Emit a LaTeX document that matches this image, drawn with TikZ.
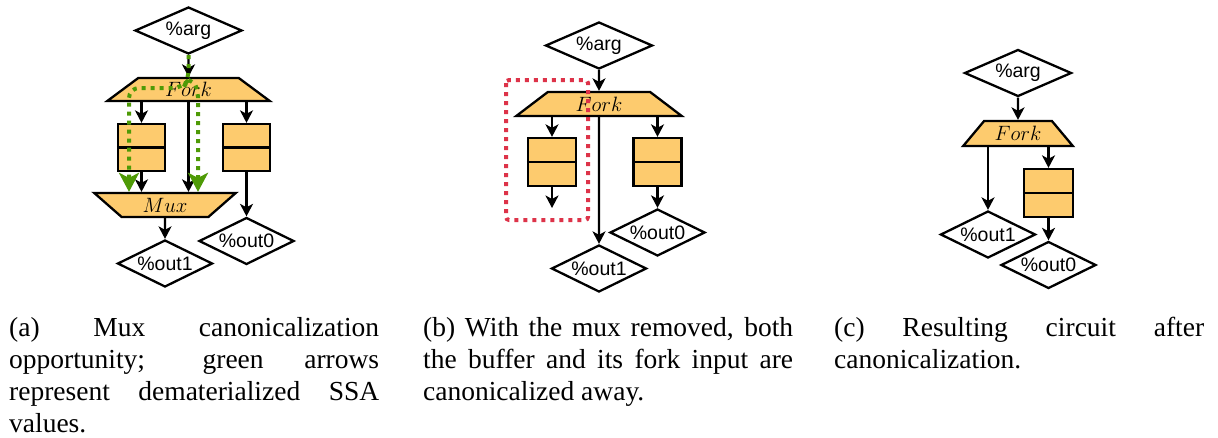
\documentclass[tikz,border=0pt]{standalone}
\usepackage{fontspec}
\setmainfont{Liberation Serif}
\setsansfont{Liberation Sans}
\usetikzlibrary{arrows.meta,shapes.geometric}

\definecolor{opfill}{RGB}{253,203,110}
\definecolor{ssagreen}{RGB}{78,154,6}
\definecolor{dropred}{RGB}{221,51,73}

\tikzset{
  val/.style={diamond, aspect=2, draw, fill=white, inner sep=0pt,
    minimum width=95pt, minimum height=47pt,
    font=\sffamily\fontsize{19.5}{19.5}\selectfont},
  argval/.style={val, minimum width=107pt},
  forkbox/.style={trapezium, trapezium left angle=45, trapezium right angle=45,
    trapezium stretches=true, draw, fill=opfill, inner sep=0pt,
    font=\fontsize{21}{21}\selectfont},
  muxbox/.style={forkbox, trapezium left angle=135, trapezium right angle=135},
  bufbox/.style={rectangle, draw, fill=opfill, inner sep=0pt,
    minimum width=47pt, minimum height=47pt},
  flow/.style={-{Stealth[length=12.5pt,width=13pt,inset=3.5pt]}},
  ssa/.style={draw=ssagreen, line width=4pt, dash pattern=on 4pt off 5pt,
    -{Stealth[length=19pt,width=20pt,inset=5pt,fill=ssagreen]}},
  removed/.style={draw=dropred, line width=4pt, dash pattern=on 4pt off 5pt,
    rounded corners=3pt},
  caption/.style={anchor=base west, inner sep=0pt, align=left,
    font=\fontsize{27.5}{32.3}\selectfont},
}

\newcommand{\subcap}[1]{\parbox[t]{370pt}{\hbadness=10000\tolerance=10000
  \hyphenpenalty=10000 #1}}

\begin{document}
\begin{tikzpicture}[x=1pt, y=-1pt, line width=2.3pt]
\useasboundingbox (0,0) rectangle (1218,437);

% ---------- (a) mux canonicalization opportunity ----------
\node[argval] (aarg) at (188.5,30.5) {\%arg};
\node[forkbox, minimum width=163pt, minimum height=23pt] (afork) at (188.5,89.5) {$Fork$};
\node[bufbox] (ab1) at (141.5,147.5) {};
\node[bufbox] (ab2) at (246.5,147.5) {};
\draw (ab1.west) -- (ab1.east);
\draw (ab2.west) -- (ab2.east);
\node[muxbox, minimum width=142pt, minimum height=24pt] (amux) at (165,205) {$Mux$};
\node[val] (aout1) at (165,263.5) {\%out1};
\node[val] (aout0) at (246.5,241) {\%out0};

\draw[flow] (aarg.south) -- (afork.north);
\draw[flow] (afork.south -| ab1.north) -- (ab1.north);
\draw[flow] (afork.south -| ab2.north) -- (ab2.north);
\draw[flow] (ab1.south) -- (ab1.south |- amux.north);
\draw[flow] (afork.south) -- (afork.south |- amux.north);
\draw[flow] (amux.south) -- (aout1.north);
\draw[flow] (ab2.south) -- (aout0.north);

% dematerialized SSA values
\coordinate (gsplit) at (188.5,80);
\coordinate (gl) at (129,88);
\coordinate (gr) at (198,97);
\draw[ssa, rounded corners=10pt] (aarg.south) -- (gsplit) -- (183,88) -- (gl) -- (gl |- amux.north);
\draw[ssa] (gsplit) .. controls (196,84) .. (gr) -- (gr |- amux.north);

% ---------- (b) mux removed ----------
\node[argval] (barg) at (599,45.5) {\%arg};
\node[forkbox, minimum width=166pt, minimum height=24pt] (bfork) at (599,104) {$Fork$};
\node[bufbox, minimum width=48pt, minimum height=48pt] (bb1) at (552,162) {};
\node[bufbox, minimum width=48pt, minimum height=48pt] (bb2) at (657.5,162) {};
\draw (bb1.west) -- (bb1.east);
\draw (bb2.west) -- (bb2.east);
\node[val] (bout1) at (599,268.5) {\%out1};
\node[val] (bout0) at (657.5,232.5) {\%out0};
\coordinate (bend) at (552,208);

\draw[flow] (barg.south) -- (bfork.north);
\draw[flow] (bfork.south -| bb1.north) -- (bb1.north);
\draw[flow] (bfork.south -| bb2.north) -- (bb2.north);
\draw[flow] (bb1.south) -- (bend);
\draw[flow] (bfork.south) -- (bout1.north);
\draw[flow] (bb2.south) -- (bout0.north);

% part that gets canonicalized away
\draw[removed] (506,80) rectangle (588,220);

% ---------- (c) resulting circuit ----------
\node[argval] (carg) at (1018,73) {\%arg};
\node[forkbox, minimum width=110pt, minimum height=25pt] (cfork) at (1018,133.5) {$Fork$};
\node[bufbox, minimum width=49pt, minimum height=48pt] (cb) at (1048.5,193) {};
\draw (cb.west) -- (cb.east);
\node[val] (cout1) at (988,234.5) {\%out1};
\node[val] (cout0) at (1048.5,265) {\%out0};

\draw[flow] (carg.south) -- (cfork.north);
\draw[flow] (cfork.south -| cout1.north) -- (cout1.north);
\draw[flow] (cfork.south -| cb.north) -- (cb.north);
\draw[flow] (cb.south) -- (cout0.north);

% ---------- captions ----------
\node[caption] (capa) at (8,336) {\subcap{(a) Mux canonicalization\linebreak
  opportunity; green arrows\linebreak represent dematerialized SSA\linebreak values.}};
\node[caption] (capb) at (422,336) {\subcap{(b) With the mux removed, both\linebreak
  the buffer and its fork input are\linebreak canonicalized away.}};
\node[caption] (capc) at (833,336) {\subcap{(c) Resulting circuit after\linebreak
  canonicalization.}};
\end{tikzpicture}
\end{document}
